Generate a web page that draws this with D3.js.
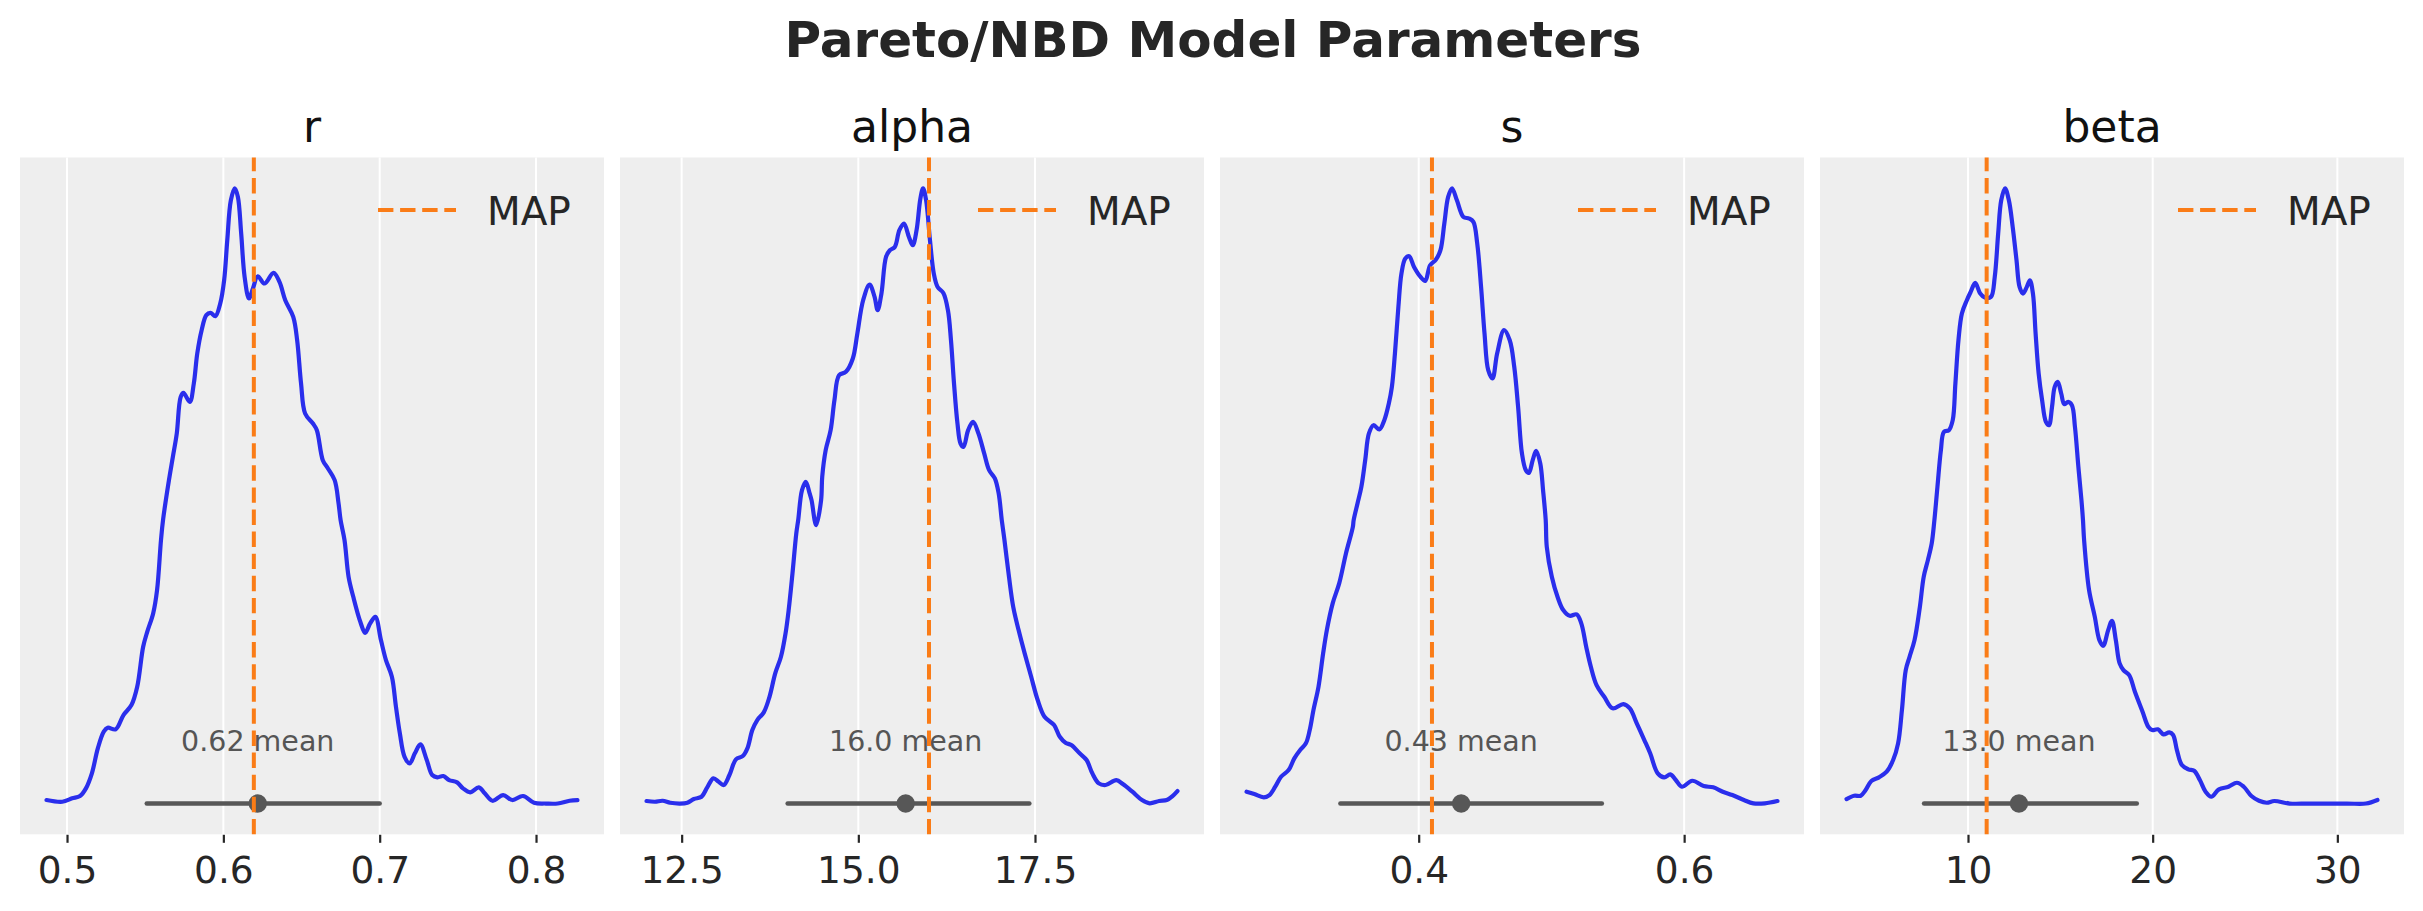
<!DOCTYPE html>
<html><head><meta charset="utf-8">
<script src="https://cdn.jsdelivr.net/npm/d3@7"></script>
<style>html,body{margin:0;padding:0;background:#fff;} svg{display:block;}</style>
</head><body><svg id="chart" width="2423" height="911"></svg>
<script>
// ---------- data ----------
const suptitle = "Pareto/NBD Model Parameters";
const params = ["r", "alpha", "s", "beta"];
const mapValues = [0.6195, 16.00, 0.410, 11.01];
const meanValues = [0.622, 15.67, 0.432, 12.76];
const meanLabels = ["0.62 mean", "16.0 mean", "0.43 mean", "13.0 mean"];
const hdiLow = [0.551, 14.00, 0.341, 7.62];
const hdiHigh = [0.700, 17.42, 0.538, 19.14];
const legendLabel = "MAP";
const tickValues = [[0.5, 0.6, 0.7, 0.8], [12.5, 15.0, 17.5], [0.4, 0.6], [10, 20, 30]];
const tickLabels = [["0.5", "0.6", "0.7", "0.8"], ["12.5", "15.0", "17.5"], ["0.4", "0.6"], ["10", "20", "30"]];

const rX = [0.4869,0.4970,0.5033,0.5083,0.5121,0.5159,0.5197,0.5235,0.5260,0.5311,0.5361,0.5412,0.5449,0.5487,0.5513,0.5551,0.5576,0.5601,0.5614,0.5652,0.5677,0.5702,0.5727,0.5745,0.5785,0.5811,0.5833,0.5861,0.5891,0.5917,0.5949,0.5980,0.6005,0.6025,0.6048,0.6073,0.6093,0.6114,0.6136,0.6164,0.6189,0.6220,0.6263,0.6321,0.6359,0.6396,0.6447,0.6472,0.6497,0.6523,0.6573,0.6598,0.6636,0.6669,0.6712,0.6737,0.6750,0.6775,0.6801,0.6831,0.6876,0.6907,0.6939,0.6972,0.7008,0.7040,0.7078,0.7104,0.7129,0.7159,0.7192,0.7225,0.7260,0.7301,0.7336,0.7369,0.7407,0.7444,0.7495,0.7533,0.7578,0.7634,0.7672,0.7722,0.7790,0.7848,0.7917,0.7987,0.8063,0.8139,0.8215,0.8265];
const rDensity = [0.0057,0.0029,0.0084,0.0122,0.0247,0.0491,0.0897,0.1167,0.1232,0.1206,0.1438,0.1600,0.1898,0.2548,0.2791,0.3090,0.3469,0.4281,0.4606,0.5256,0.5634,0.6015,0.6609,0.6674,0.6528,0.6827,0.7314,0.7693,0.7937,0.7974,0.7921,0.8127,0.8505,0.9155,0.9805,1.0000,0.9859,0.9264,0.8559,0.8208,0.8370,0.8570,0.8452,0.8624,0.8478,0.8180,0.7909,0.7530,0.6827,0.6340,0.6177,0.6068,0.5581,0.5446,0.5256,0.4877,0.4606,0.4281,0.3685,0.3360,0.2954,0.2775,0.2928,0.3035,0.2656,0.2331,0.2060,0.1573,0.1141,0.0760,0.0653,0.0816,0.0962,0.0707,0.0463,0.0426,0.0447,0.0382,0.0344,0.0247,0.0182,0.0263,0.0166,0.0045,0.0138,0.0057,0.0122,0.0013,0.0000,0.0000,0.0045,0.0057];

const alphaX = [12.003,12.122,12.230,12.338,12.473,12.581,12.673,12.781,12.862,12.949,13.024,13.095,13.176,13.268,13.365,13.430,13.500,13.570,13.662,13.743,13.824,13.905,13.970,14.014,14.068,14.122,14.149,14.203,14.257,14.311,14.338,14.403,14.473,14.489,14.538,14.608,14.662,14.727,14.824,14.922,14.986,15.068,15.159,15.230,15.273,15.327,15.392,15.446,15.516,15.581,15.646,15.716,15.770,15.824,15.878,15.916,15.959,16.014,16.068,16.122,16.203,16.268,16.311,16.354,16.403,16.446,16.489,16.554,16.624,16.700,16.781,16.851,16.932,16.986,17.030,17.068,17.132,17.192,17.268,17.354,17.446,17.538,17.635,17.770,17.851,17.932,18.014,18.132,18.230,18.311,18.403,18.500,18.651,18.743,18.878,19.014,19.122,19.257,19.365,19.446,19.516];
const alphaDensity = [0.0041,0.0029,0.0045,0.0013,0.0000,0.0013,0.0073,0.0110,0.0263,0.0409,0.0354,0.0301,0.0463,0.0718,0.0772,0.0897,0.1194,0.1357,0.1482,0.1735,0.2115,0.2385,0.2765,0.3144,0.3740,0.4390,0.4606,0.5093,0.5228,0.5040,0.4931,0.4525,0.4931,0.5309,0.5743,0.6068,0.6556,0.6962,0.7016,0.7233,0.7639,0.8180,0.8435,0.8234,0.8018,0.8289,0.8884,0.8993,0.9046,0.9318,0.9426,0.9209,0.9074,0.9318,0.9833,1.0000,0.9805,0.9155,0.8614,0.8396,0.8299,0.8018,0.7530,0.6827,0.6177,0.5852,0.5797,0.6068,0.6203,0.6015,0.5690,0.5418,0.5284,0.5040,0.4606,0.4281,0.3685,0.3197,0.2819,0.2440,0.2060,0.1682,0.1410,0.1275,0.1085,0.0988,0.0950,0.0816,0.0707,0.0491,0.0328,0.0301,0.0382,0.0317,0.0192,0.0057,0.0003,0.0041,0.0057,0.0122,0.0203];

const sX = [0.2703,0.2761,0.2833,0.2876,0.2919,0.2963,0.3020,0.3063,0.3107,0.3150,0.3179,0.3207,0.3245,0.3280,0.3308,0.3352,0.3401,0.3452,0.3504,0.3510,0.3539,0.3568,0.3597,0.3625,0.3660,0.3703,0.3741,0.3775,0.3798,0.3821,0.3847,0.3870,0.3899,0.3928,0.3965,0.4014,0.4049,0.4086,0.4130,0.4164,0.4193,0.4222,0.4251,0.4288,0.4337,0.4380,0.4412,0.4441,0.4470,0.4496,0.4524,0.4556,0.4591,0.4643,0.4686,0.4720,0.4749,0.4778,0.4807,0.4830,0.4859,0.4885,0.4916,0.4937,0.4957,0.4965,0.5003,0.5046,0.5089,0.5138,0.5190,0.5225,0.5262,0.5297,0.5340,0.5398,0.5461,0.5542,0.5591,0.5643,0.5700,0.5744,0.5801,0.5850,0.5896,0.5937,0.5983,0.6061,0.6147,0.6219,0.6291,0.6363,0.6450,0.6522,0.6608,0.6703];
const sDensity = [0.0192,0.0154,0.0101,0.0138,0.0273,0.0435,0.0544,0.0734,0.0869,0.0978,0.1194,0.1519,0.1898,0.2440,0.2819,0.3253,0.3578,0.4065,0.4497,0.4606,0.4877,0.5147,0.5581,0.6015,0.6149,0.6080,0.6231,0.6502,0.6772,0.7314,0.8071,0.8614,0.8858,0.8895,0.8721,0.8559,0.8494,0.8749,0.8842,0.8993,0.9426,0.9859,1.0000,0.9805,0.9534,0.9508,0.9453,0.9102,0.8397,0.7639,0.7043,0.6908,0.7314,0.7693,0.7530,0.7097,0.6447,0.5690,0.5418,0.5374,0.5581,0.5732,0.5527,0.5093,0.4606,0.4172,0.3685,0.3360,0.3144,0.3051,0.3074,0.2928,0.2548,0.2223,0.1925,0.1735,0.1547,0.1617,0.1547,0.1303,0.1032,0.0816,0.0491,0.0426,0.0474,0.0382,0.0273,0.0370,0.0284,0.0263,0.0192,0.0138,0.0057,0.0003,0.0003,0.0041];

const betaX = [3.423,3.837,4.188,4.457,4.767,5.181,5.595,5.946,6.215,6.422,6.629,6.836,7.104,7.394,7.601,7.828,8.035,8.180,8.345,8.532,8.697,8.966,9.173,9.317,9.483,9.669,9.938,10.145,10.393,10.662,10.910,11.241,11.448,11.634,11.799,12.006,12.213,12.420,12.627,12.792,12.978,13.185,13.351,13.516,13.661,13.826,14.012,14.219,14.385,14.550,14.695,14.860,15.047,15.212,15.419,15.626,15.791,15.977,16.143,16.226,16.287,16.556,16.867,17.115,17.322,17.590,17.797,18.004,18.211,18.418,18.728,19.038,19.452,19.762,19.969,20.279,20.590,20.900,21.107,21.313,21.582,21.934,22.244,22.554,22.865,23.175,23.589,24.106,24.561,24.933,25.346,25.760,26.174,26.587,27.415,28.449,30.517,31.551,32.172];
const betaDensity = [0.0073,0.0127,0.0127,0.0219,0.0366,0.0426,0.0517,0.0707,0.0978,0.1519,0.2169,0.2385,0.2656,0.3197,0.3685,0.3956,0.4227,0.4606,0.5147,0.5743,0.6041,0.6068,0.6231,0.6827,0.7530,0.7964,0.8180,0.8315,0.8461,0.8289,0.8224,0.8234,0.8559,0.9264,0.9805,1.0000,0.9805,0.9371,0.8830,0.8397,0.8289,0.8397,0.8505,0.8289,0.7639,0.6990,0.6556,0.6203,0.6149,0.6447,0.6772,0.6853,0.6664,0.6491,0.6528,0.6474,0.6122,0.5472,0.4931,0.4606,0.4281,0.3469,0.3035,0.2656,0.2564,0.2819,0.2970,0.2656,0.2278,0.2169,0.2088,0.1816,0.1491,0.1248,0.1194,0.1206,0.1124,0.1157,0.1113,0.0869,0.0626,0.0556,0.0533,0.0382,0.0192,0.0110,0.0231,0.0273,0.0338,0.0273,0.0122,0.0045,0.0013,0.0041,0.0000,0.0000,0.0000,0.0000,0.0057];

const xsList = [rX, alphaX, sX, betaX];
const densList = [rDensity, alphaDensity, sDensity, betaDensity];

// ---------- layout / style ----------
const FONT = "DejaVu Sans, Liberation Sans, sans-serif";
const panelLeft0 = 20, panelStep = 600, panelW = 584;
const panelTop = 157.5, panelBottom = 834.3;
const C_KDE = "#2a2eec", C_MAP = "#fa7c17", C_HDI = "#575757", C_TEXT = "#262626";

const svg = d3.select("#chart");
svg.append("rect").attr("width", 2423).attr("height", 911).attr("fill", "#ffffff");

svg.append("text")
  .attr("x", 1213).attr("y", 57)
  .attr("text-anchor", "middle")
  .attr("font-family", FONT).attr("font-size", 50).attr("font-weight", "bold")
  .attr("fill", C_TEXT)
  .text(suptitle);

params.forEach((p, i) => {
  const left = panelLeft0 + i * panelStep, right = left + panelW;
  const pts = d3.zip(xsList[i], densList[i]);
  const xExt = d3.extent(pts, d => d[0]);
  const xPad = (xExt[1] - xExt[0]) * 0.05;
  const yMin = Math.min(0, d3.min(pts, d => d[1])), yMax = d3.max(pts, d => d[1]);
  const yPad = (yMax - yMin) * 0.05;
  const x = d3.scaleLinear().domain([xExt[0] - xPad, xExt[1] + xPad]).range([left, right]);
  const y = d3.scaleLinear().domain([yMin - yPad, yMax + yPad]).range([panelBottom, panelTop]);

  const g = svg.append("g");
  g.append("rect").attr("x", left).attr("y", panelTop)
    .attr("width", panelW).attr("height", panelBottom - panelTop).attr("fill", "#eeeeee");

  // gridlines
  g.selectAll("line.grid").data(tickValues[i]).join("line").attr("class", "grid")
    .attr("x1", d => x(d)).attr("x2", d => x(d))
    .attr("y1", panelTop).attr("y2", panelBottom)
    .attr("stroke", "#ffffff").attr("stroke-width", 2);

  // title
  g.append("text").attr("x", (left + right) / 2).attr("y", 142)
    .attr("text-anchor", "middle").attr("font-family", FONT).attr("font-size", 44)
    .attr("fill", "#111111").text(p);

  // KDE
  const line = d3.line().x(d => x(d[0])).y(d => y(d[1])).curve(d3.curveCatmullRom.alpha(0.5));
  g.append("path").datum(pts).attr("d", line)
    .attr("fill", "none").attr("stroke", C_KDE).attr("stroke-width", 4.2)
    .attr("stroke-linejoin", "round").attr("stroke-linecap", "round");

  // HDI line + point estimate
  g.append("line").attr("x1", x(hdiLow[i])).attr("x2", x(hdiHigh[i]))
    .attr("y1", y(0)).attr("y2", y(0))
    .attr("stroke", C_HDI).attr("stroke-width", 4.5).attr("stroke-linecap", "round");
  g.append("circle").attr("cx", x(meanValues[i])).attr("cy", y(0)).attr("r", 9.2).attr("fill", C_HDI);
  g.append("text").attr("x", x(meanValues[i])).attr("y", 750.5)
    .attr("text-anchor", "middle").attr("font-family", FONT).attr("font-size", 28.5)
    .attr("fill", "#555555").text(meanLabels[i]);

  // MAP vertical line
  g.append("line").attr("x1", x(mapValues[i])).attr("x2", x(mapValues[i]))
    .attr("y1", panelBottom).attr("y2", panelTop)
    .attr("stroke", C_MAP).attr("stroke-width", 4).attr("stroke-dasharray", "15.4 6.7");

  // legend
  g.append("line").attr("x1", right - 226).attr("x2", right - 148)
    .attr("y1", 210).attr("y2", 210)
    .attr("stroke", C_MAP).attr("stroke-width", 4).attr("stroke-dasharray", "15.4 6.7");
  g.append("text").attr("x", right - 117).attr("y", 224.5)
    .attr("font-family", FONT).attr("font-size", 39).attr("fill", C_TEXT).text(legendLabel);

  // x axis
  const axis = d3.axisBottom(x).tickValues(tickValues[i])
    .tickFormat((d, j) => tickLabels[i][j]).tickSize(8).tickPadding(13.5);
  const ag = svg.append("g").attr("transform", `translate(0,${panelBottom + 0.5})`).call(axis);
  ag.select(".domain").remove();
  ag.selectAll(".tick line").attr("stroke", C_TEXT).attr("stroke-width", 2.2);
  ag.selectAll(".tick text").attr("font-family", FONT).attr("font-size", 37.5).attr("fill", C_TEXT);
});
</script></body></html>
